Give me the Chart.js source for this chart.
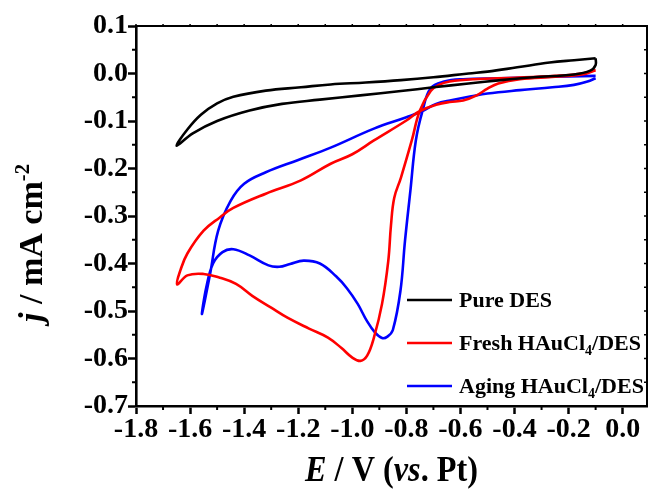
<!DOCTYPE html>
<html>
<head>
<meta charset="utf-8">
<script src="https://cdn.jsdelivr.net/npm/chart.js@4.4.1/dist/chart.umd.min.js"></script>
<style>
html,body{margin:0;padding:0;background:#fff;}
#wrap{width:649px;height:491px;position:relative;}
</style>
</head>
<body>
<div id="wrap"><canvas id="cv"></canvas></div>
<script>
// series
const seriesLabels = ["Pure DES","Fresh HAuCl₄/DES","Aging HAuCl₄/DES"];
const seriesColors = ["#000000","#ff0000","#0000ff"];

// axis ticks
const xTicks = [-1.8,-1.6,-1.4,-1.2,-1.0,-0.8,-0.6,-0.4,-0.2,0.0];
const yTicks = [-0.7,-0.6,-0.5,-0.4,-0.3,-0.2,-0.1,0.0,0.1];

const pureE = [-0.10,-0.18,-0.27,-0.39,-0.50,-0.57,-0.70,-0.82,-0.95,-1.08,-1.19,-1.32,-1.44,-1.50,-1.56,-1.61,-1.65,
               -1.59,-1.50,-1.38,-1.26,-1.12,-0.97,-0.82,-0.70,-0.57,-0.45,-0.33,-0.18,-0.12,-0.10,-0.10];
const pureJ = [0.032,0.028,0.023,0.013,0.004,0.000,-0.008,-0.014,-0.019,-0.023,-0.029,-0.036,-0.049,-0.063,-0.087,-0.118,-0.152,
               -0.126,-0.100,-0.078,-0.064,-0.055,-0.046,-0.037,-0.029,-0.021,-0.014,-0.008,-0.002,0.006,0.018,0.032];

const freshE = [-0.10,-0.15,-0.25,-0.40,-0.55,-0.64,-0.68,-0.71,-0.75,-0.78,-0.82,-0.845,-0.857,-0.867,-0.89,-0.92,-0.945,-0.97,
                -1.00,-1.04,-1.09,-1.16,-1.24,-1.30,-1.37,-1.43,-1.49,-1.55,-1.61,-1.648,
                -1.635,-1.61,-1.55,-1.49,-1.44,-1.32,-1.19,-1.08,-1.00,-0.92,-0.80,-0.75,-0.69,-0.64,-0.59,-0.54,-0.50,-0.46,-0.38,-0.25,-0.15,-0.10];
const freshJ = [0.007,0.000,-0.005,-0.009,-0.012,-0.017,-0.024,-0.037,-0.078,-0.141,-0.219,-0.262,-0.320,-0.395,-0.485,-0.556,-0.594,-0.605,
                -0.598,-0.578,-0.556,-0.537,-0.514,-0.493,-0.468,-0.443,-0.430,-0.422,-0.425,-0.444,
                -0.413,-0.379,-0.331,-0.303,-0.283,-0.253,-0.225,-0.190,-0.170,-0.141,-0.099,-0.079,-0.066,-0.060,-0.057,-0.046,-0.032,-0.021,-0.012,-0.007,-0.002,0.007];

const agingE = [-0.10,-0.20,-0.33,-0.45,-0.59,-0.66,-0.71,-0.74,-0.765,-0.785,-0.805,-0.822,-0.85,-0.87,-0.89,-0.915,-0.945,-0.98,
                -1.02,-1.06,-1.12,-1.18,-1.23,-1.27,-1.31,-1.38,-1.44,-1.48,-1.515,-1.54,-1.556,
                -1.526,-1.496,-1.45,-1.40,-1.32,-1.20,-1.08,-0.92,-0.80,-0.74,-0.69,-0.63,-0.56,-0.50,-0.38,-0.26,-0.18,-0.13,-0.10];
const agingJ = [-0.005,-0.006,-0.008,-0.010,-0.012,-0.017,-0.031,-0.078,-0.141,-0.246,-0.352,-0.458,-0.540,-0.554,-0.557,-0.546,-0.522,-0.485,
                -0.452,-0.427,-0.400,-0.394,-0.401,-0.407,-0.404,-0.383,-0.370,-0.376,-0.400,-0.450,-0.506,
                -0.422,-0.331,-0.268,-0.232,-0.208,-0.182,-0.156,-0.116,-0.092,-0.079,-0.064,-0.056,-0.048,-0.042,-0.035,-0.029,-0.024,-0.017,-0.010];

const SERIF = "'Liberation Serif','Times New Roman',serif";

function toPoints(xs, ys){
    return xs.map((x,i)=>({x:x, y:ys[i]}));
}

function fontFor(s, size){
    const sz = (s.sup || s.sub) ? Math.round(size*0.62) : size;
    return (s.i ? "italic " : "") + "bold " + sz + "px " + SERIF;
}

// draws text made of pieces (italic / sub / sup), optionally squeezed to a width
function drawRich(ctx, segs, x, y, size, targetW, align){
    let w = 0;
    segs.forEach(s=>{
        ctx.font = fontFor(s,size);
        s.w = ctx.measureText(s.t).width;
        w += s.w;
    });
    const k = targetW ? targetW / w : 1;
    ctx.save();
    ctx.translate(x,y);
    ctx.scale(k,1);
    let cx = align === "center" ? -w/2 : 0;
    ctx.textBaseline = "alphabetic";
    ctx.textAlign = "left";
    segs.forEach(s=>{
        ctx.font = fontFor(s,size);
        const dy = s.sup ? -size*0.40 : (s.sub ? size*0.22 : 0);
        ctx.fillText(s.t, cx, dy);
        cx += s.w;
    });
    ctx.restore();
}

// turn unicode subscript digits into sub pieces
function labelSegs(str){
    const segs = [];
    for(const ch of str){
        const c = ch.codePointAt(0);
        const sub = c >= 0x2080 && c <= 0x2089;
        const t = sub ? String(c - 0x2080) : ch;
        const last = segs[segs.length-1];
        if(last && !!last.sub === sub){ last.t += t; }
        else{ segs.push({t:t, sub:sub}); }
    }
    return segs;
}

const framePlugin = {
    id:"frame",
    afterDraw(chart){
        const ctx = chart.ctx;
        const a = chart.chartArea;
        const xs = chart.scales.x;
        const ys = chart.scales.y;

        ctx.save();
        ctx.strokeStyle = "#000";
        ctx.fillStyle = "#000";

        // top and right border
        ctx.lineWidth = 2;
        ctx.beginPath();
        ctx.moveTo(a.left, a.top);
        ctx.lineTo(a.right, a.top);
        ctx.lineTo(a.right, a.bottom);
        ctx.stroke();

        // minor ticks
        ctx.lineWidth = 2;
        ctx.beginPath();
        for(let i=0;i<xTicks.length-1;i++){
            const p = xs.getPixelForValue((xTicks[i]+xTicks[i+1])/2);
            ctx.moveTo(p, a.bottom); ctx.lineTo(p, a.bottom+4);
        }
        for(let i=0;i<yTicks.length-1;i++){
            const p = ys.getPixelForValue((yTicks[i]+yTicks[i+1])/2);
            ctx.moveTo(a.left, p); ctx.lineTo(a.left-4, p);
        }
        ctx.stroke();

        // small ticks on top / right
        ctx.lineWidth = 1.5;
        ctx.beginPath();
        for(let i=0;i<xTicks.length;i++){
            const vals = [xTicks[i]];
            if(i<xTicks.length-1) vals.push((xTicks[i]+xTicks[i+1])/2);
            vals.forEach(v=>{
                const p = xs.getPixelForValue(v);
                ctx.moveTo(p, a.top); ctx.lineTo(p, a.top-2);
            });
        }
        for(let i=0;i<yTicks.length;i++){
            const vals = [yTicks[i]];
            if(i<yTicks.length-1) vals.push((yTicks[i]+yTicks[i+1])/2);
            vals.forEach(v=>{
                const p = ys.getPixelForValue(v);
                ctx.moveTo(a.right, p); ctx.lineTo(a.right-3, p);
            });
        }
        ctx.stroke();

        // legend
        chart.data.datasets.forEach((ds,i)=>{
            const ry = 300 + i*43;
            ctx.strokeStyle = ds.borderColor;
            ctx.lineWidth = 2.5;
            ctx.beginPath();
            ctx.moveTo(407, ry); ctx.lineTo(452, ry);
            ctx.stroke();
            ctx.fillStyle = "#000";
            drawRich(ctx, labelSegs(ds.label), 459, ry+7, 22, 0, "left");
        });

        // axis titles
        ctx.fillStyle = "#000";
        drawRich(ctx, [{t:"E",i:true},{t:" / V ("},{t:"vs",i:true},{t:". Pt)"}],
                 (a.left+a.right)/2, 481, 35, 173, "center");

        ctx.save();
        ctx.translate(42, 243);
        ctx.rotate(-Math.PI/2);
        drawRich(ctx, [{t:"j",i:true},{t:" / mA cm"},{t:"-2",sup:true}], 0, 0, 33, 158, "center");
        ctx.restore();

        ctx.restore();
    }
};

const tickFont = {family:SERIF, size:28, weight:"bold"};

new Chart(document.getElementById("cv").getContext("2d"),{
    type:"scatter",
    data:{
        datasets:[
            {label:seriesLabels[0], data:toPoints(pureE,pureJ), borderColor:seriesColors[0]},
            {label:seriesLabels[1], data:toPoints(freshE,freshJ), borderColor:seriesColors[1]},
            {label:seriesLabels[2], data:toPoints(agingE,agingJ), borderColor:seriesColors[2]}
        ].map(d=>Object.assign(d,{showLine:true, pointRadius:0, borderWidth:2.6, tension:0.4, fill:false}))
    },
    options:{
        responsive:true,
        maintainAspectRatio:false,
        animation:false,
        layout:{padding:{top:26, right:2, bottom:0, left:0}},
        plugins:{
            legend:{display:false},
            tooltip:{enabled:false}
        },
        scales:{
            x:{
                type:"linear",
                min:-1.8,
                max:0.09,
                afterBuildTicks:s=>{ s.ticks = xTicks.map(v=>({value:v})); },
                afterFit:s=>{ s.height = 85; },
                grid:{display:true, drawOnChartArea:false, drawTicks:true, tickLength:8, tickWidth:2.5, tickColor:"#000"},
                border:{display:true, color:"#000", width:2.6},
                ticks:{color:"#000", font:tickFont, padding:-1, autoSkip:false, maxRotation:0,
                       callback:v=>Number(v).toFixed(1)}
            },
            y:{
                type:"linear",
                min:-0.7,
                max:0.1,
                afterBuildTicks:s=>{ s.ticks = yTicks.map(v=>({value:v})); },
                afterFit:s=>{ s.width = 136; },
                grid:{display:true, drawOnChartArea:false, drawTicks:true, tickLength:8, tickWidth:2.5, tickColor:"#000"},
                border:{display:true, color:"#000", width:2.6},
                ticks:{color:"#000", font:tickFont, padding:0, autoSkip:false,
                       callback:v=>Number(v).toFixed(1)}
            }
        }
    },
    plugins:[framePlugin]
});
</script>
</body>
</html>
